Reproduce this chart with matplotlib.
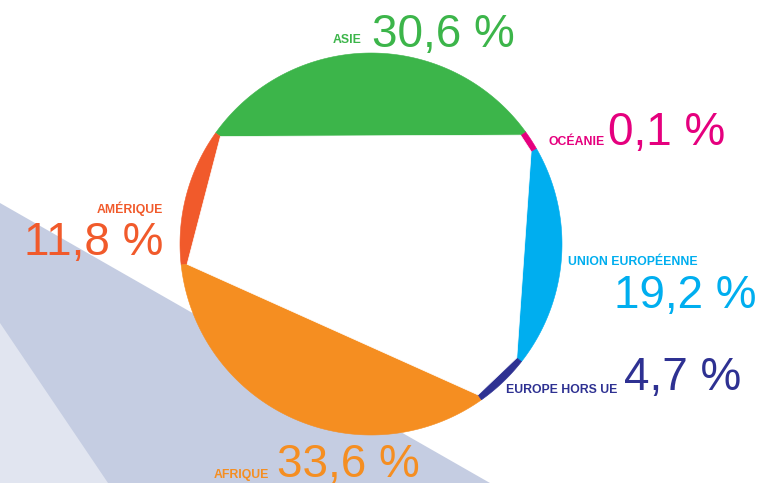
import matplotlib
matplotlib.use("Agg")

import matplotlib.pyplot as plt
import numpy as np
from matplotlib.patches import Polygon

# =====================================================
# Data
# =====================================================

regions = ["UNION EUROPÉENNE", "OCÉANIE", "ASIE", "AMÉRIQUE", "AFRIQUE", "EUROPE HORS UE"]

shares = [19.2, 0.1, 30.6, 11.8, 33.6, 4.7]

value_labels = ["19,2 %", "0,1 %", "30,6 %", "11,8 %", "33,6 %", "4,7 %"]

colors = ["#00aeef", "#e5007e", "#3cb54a", "#f15a2b", "#f58e21", "#2e3192"]

# =====================================================
# Figure in pixel coordinates
# =====================================================

figure = plt.figure(figsize=(7.59, 4.83), dpi=100)
axes = figure.add_axes([0, 0, 1, 1])
axes.set_xlim(0, 759)
axes.set_ylim(483, 0)
axes.axis("off")

# background bands (lower left)
axes.add_patch(Polygon([(0, 203), (490, 483), (0, 483)], closed=True,
                       facecolor="#c5cde2", edgecolor="none", zorder=0))
axes.add_patch(Polygon([(0, 323), (108, 483), (0, 483)], closed=True,
                       facecolor="#e1e5f0", edgecolor="none", zorder=1))

# =====================================================
# Pie wedges, then a white polygon on top
# (its corners sit a little inside the circle)
# =====================================================

cx, cy, r = 371, 244, 191
inset = 6

# very small slice drawn a bit wider so it stays visible
display = np.maximum(np.array(shares), 1.7)
angles = display / display.sum() * 360

start = -38
corners = []
for ang, col in zip(angles, colors):
    theta = np.radians(np.linspace(start, start + ang, 120))
    pts = np.column_stack([cx + r * np.cos(theta), cy - r * np.sin(theta)])
    pts = np.vstack([[cx, cy], pts])
    axes.add_patch(Polygon(pts, closed=True, facecolor=col,
                           edgecolor=col, linewidth=0.4, zorder=3))
    a = np.radians(start)
    corners.append((cx + (r - inset) * np.cos(a), cy - (r - inset) * np.sin(a)))
    start += ang

axes.add_patch(Polygon(corners, closed=True, facecolor="white",
                       edgecolor="white", linewidth=0.5, zorder=4))

# =====================================================
# Labels
# =====================================================

name_font = dict(family=["Liberation Sans", "DejaVu Sans"], fontsize=8.8,
                 fontweight="bold")
num_font = dict(family=["Liberation Sans", "DejaVu Sans"], fontsize=33)

# (name x, name y, name ha, number x, number y, number ha)
spots = {
    "ASIE": (362, 43, "right", 372, 47, "left"),
    "OCÉANIE": (605, 145, "right", 608, 145, "left"),
    "UNION EUROPÉENNE": (698, 265, "right", 756, 308, "right"),
    "EUROPE HORS UE": (617, 393, "right", 624, 390, "left"),
    "AMÉRIQUE": (163, 213, "right", 163, 255, "right"),
    "AFRIQUE": (269, 478, "right", 277, 477, "left"),
}

for name, lab, col in zip(regions, value_labels, colors):
    nx, ny, nha, vx, vy, vha = spots[name]
    axes.text(nx, ny, name, color=col, ha=nha, va="baseline", zorder=5, **name_font)
    axes.text(vx, vy, lab, color=col, ha=vha, va="baseline", zorder=5, **num_font)

plt.savefig("out.png", dpi=100)
